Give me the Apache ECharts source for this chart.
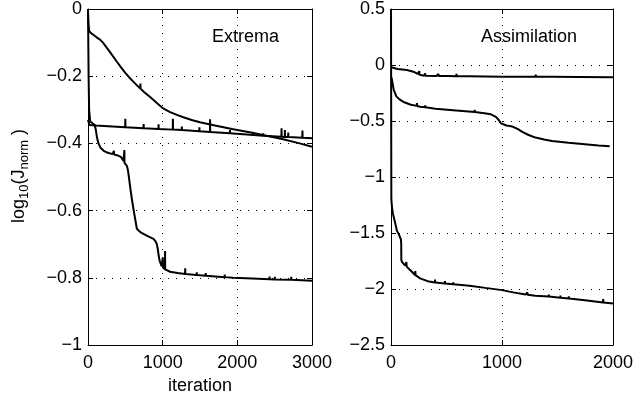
<!DOCTYPE html>
<html><head><meta charset="utf-8">
<script src="https://cdn.jsdelivr.net/npm/echarts@6/dist/echarts.min.js"></script>
<style>html,body{margin:0;padding:0;background:#fff}#c{width:636px;height:401px}</style>
</head><body><div id="c"></div>
<script>
// ---- Data ----
const leftTitle = "Extrema";
const rightTitle = "Assimilation";
const leftXTicks = [0, 1000, 2000, 3000];
const leftYTicks = [-1, -0.8, -0.6, -0.4, -0.2, 0];
const rightXTicks = [0, 1000, 2000];
const rightYTicks = [-2.5, -2, -1.5, -1, -0.5, 0, 0.5];

// Extrema panel
const extremaA = [[0,-0.005],[5,-0.04],[15,-0.065],[40,-0.072],[80,-0.078],[120,-0.085],[165,-0.092],[200,-0.1],[250,-0.115],[300,-0.13],[387,-0.157],[450,-0.176],[500,-0.19],[550,-0.203],[610,-0.217],[700,-0.237],[702,-0.222],[704,-0.237],[750,-0.247],[832,-0.262],[900,-0.275],[1000,-0.295],[1100,-0.307],[1200,-0.316],[1277,-0.322],[1400,-0.331],[1500,-0.337],[1700,-0.347],[1945,-0.358],[2200,-0.368],[2390,-0.377],[2600,-0.387],[2835,-0.4],[3000,-0.41]];
const extremaB = [[0,-0.33],[20,-0.345],[100,-0.347],[498,-0.352],[500,-0.327],[502,-0.352],[743,-0.355],[745,-0.342],[747,-0.355],[943,-0.357],[945,-0.343],[947,-0.357],[1135,-0.359],[1137,-0.327],[1139,-0.359],[1255,-0.36],[1257,-0.35],[1259,-0.36],[1490,-0.364],[1492,-0.352],[1494,-0.364],[1633,-0.366],[1635,-0.328],[1637,-0.366],[1900,-0.37],[1902,-0.36],[1904,-0.37],[2212,-0.375],[2214,-0.366],[2216,-0.375],[2345,-0.377],[2347,-0.37],[2349,-0.377],[2590,-0.38],[2592,-0.355],[2594,-0.38],[2635,-0.381],[2637,-0.36],[2639,-0.381],[2680,-0.381],[2682,-0.368],[2684,-0.381],[2870,-0.383],[2872,-0.362],[2874,-0.383],[3000,-0.385]];
const extremaC = [[0,0],[8,-0.2],[15,-0.3],[30,-0.335],[60,-0.34],[90,-0.345],[105,-0.36],[120,-0.382],[140,-0.4],[165,-0.412],[210,-0.422],[254,-0.427],[330,-0.432],[345,-0.433],[347,-0.422],[349,-0.433],[387,-0.435],[440,-0.44],[476,-0.452],[485,-0.455],[487,-0.42],[489,-0.458],[510,-0.462],[521,-0.467],[535,-0.48],[543,-0.492],[565,-0.53],[587,-0.565],[605,-0.59],[620,-0.61],[632,-0.625],[654,-0.654],[700,-0.664],[743,-0.669],[800,-0.676],[877,-0.684],[900,-0.69],[921,-0.699],[935,-0.715],[943,-0.728],[955,-0.745],[965,-0.753],[985,-0.765],[1000,-0.768],[1002,-0.74],[1004,-0.769],[1030,-0.775],[1032,-0.72],[1034,-0.775],[1050,-0.778],[1099,-0.782],[1200,-0.786],[1300,-0.789],[1302,-0.772],[1304,-0.789],[1455,-0.792],[1457,-0.784],[1459,-0.792],[1575,-0.794],[1577,-0.786],[1579,-0.794],[1830,-0.798],[1832,-0.79],[1834,-0.798],[1945,-0.8],[2200,-0.802],[2430,-0.804],[2432,-0.796],[2434,-0.804],[2500,-0.805],[2502,-0.797],[2504,-0.805],[2720,-0.806],[2722,-0.797],[2724,-0.806],[3000,-0.809]];

// Assimilation panel
const assimD = [[0,-0.02],[9,-0.03],[60,-0.035],[143,-0.045],[202,-0.06],[240,-0.08],[253,-0.085],[255,-0.055],[257,-0.088],[262,-0.09],[300,-0.095],[306,-0.095],[308,-0.075],[310,-0.095],[410,-0.098],[425,-0.098],[427,-0.08],[429,-0.098],[514,-0.099],[516,-0.082],[518,-0.099],[588,-0.1],[590,-0.078],[592,-0.1],[700,-0.101],[1000,-0.104],[1302,-0.104],[1304,-0.085],[1306,-0.104],[1450,-0.105],[1688,-0.107],[1690,-0.092],[1692,-0.107],[2000,-0.11]];
const assimE = [[0,-0.1],[9,-0.134],[24,-0.22],[48,-0.28],[80,-0.31],[113,-0.33],[180,-0.355],[232,-0.365],[234,-0.34],[236,-0.366],[262,-0.373],[306,-0.378],[308,-0.36],[310,-0.378],[400,-0.39],[559,-0.403],[700,-0.415],[752,-0.42],[754,-0.4],[756,-0.42],[841,-0.43],[900,-0.44],[945,-0.463],[970,-0.49],[990,-0.52],[1040,-0.54],[1094,-0.55],[1140,-0.57],[1183,-0.597],[1240,-0.625],[1302,-0.648],[1380,-0.665],[1450,-0.678],[1600,-0.695],[1747,-0.707],[1870,-0.718],[1970,-0.725]];
const assimF = [[0,0.5],[3,-1.2],[10,-1.28],[18,-1.33],[35,-1.4],[53,-1.48],[70,-1.51],[83,-1.52],[90,-1.56],[92,-1.6],[93,-1.74],[100,-1.76],[128,-1.79],[137,-1.8],[139,-1.76],[141,-1.8],[150,-1.81],[172,-1.83],[217,-1.875],[219,-1.84],[221,-1.876],[262,-1.905],[330,-1.93],[395,-1.942],[397,-1.915],[399,-1.942],[484,-1.95],[486,-1.93],[488,-1.95],[559,-1.958],[561,-1.94],[563,-1.958],[707,-1.97],[850,-1.99],[1000,-2.01],[1100,-2.03],[1213,-2.05],[1227,-2.052],[1229,-2.03],[1231,-2.052],[1300,-2.06],[1420,-2.068],[1422,-2.05],[1424,-2.068],[1525,-2.078],[1527,-2.06],[1529,-2.078],[1600,-2.085],[1602,-2.065],[1604,-2.085],[1747,-2.1],[1910,-2.12],[1912,-2.09],[1914,-2.12],[2000,-2.13]];

// ---- Chart ----
const FONT = '"Liberation Sans", Arial, sans-serif';
const fmt = v => { const s = String(Math.round(v * 10) / 10); return s.replace('-', '\u2212'); };
const grids = [
  {left: 88, top: 9, width: 224, height: 336},
  {left: 391, top: 9, width: 224, height: 336}
];
function xAx(gi, max, pos, main) {
  return {
    type: 'value', gridIndex: gi, min: 0, max: max, interval: 1000, position: pos,
    axisLine: {show: true, onZero: false, lineStyle: {color: '#000', width: 1}},
    axisTick: {show: true, inside: true, length: 5, lineStyle: {color: '#000'}},
    axisLabel: {show: main, color: '#000', fontSize: 18, fontFamily: FONT, margin: 9, formatter: fmt},
    splitLine: {show: main, lineStyle: {color: '#000', width: 1, type: [1, 7]}},
    name: (main && gi === 0) ? 'iteration' : '', nameLocation: 'middle', nameGap: 30,
    nameTextStyle: {color: '#000', fontSize: 18, fontFamily: FONT}
  };
}
function yAx(gi, min, max, interval, pos, main) {
  return {
    type: 'value', gridIndex: gi, min: min, max: max, interval: interval, position: pos,
    axisLine: {show: true, onZero: false, lineStyle: {color: '#000', width: 1}},
    axisTick: {show: true, inside: true, length: 5, lineStyle: {color: '#000'}},
    axisLabel: {show: main, color: '#000', fontSize: 18, fontFamily: FONT, margin: 6, formatter: fmt},
    splitLine: {show: main, lineStyle: {color: '#000', width: 1, type: [1, 7]}}
  };
}
const lineStyle = {color: '#000', width: 2};
function ser(data, xi, yi) {
  return {type: 'line', data: data, xAxisIndex: xi, yAxisIndex: yi, showSymbol: false, symbol: 'none',
          lineStyle: lineStyle, animation: false, z: 5};
}
const chart = echarts.init(document.getElementById('c'), null, {renderer: 'canvas'});
chart.setOption({
  backgroundColor: '#fff',
  animation: false,
  grid: grids,
  xAxis: [xAx(0, 3000, 'bottom', true), xAx(0, 3000, 'top', false), xAx(1, 2000, 'bottom', true), xAx(1, 2000, 'top', false)],
  yAxis: [yAx(0, -1, 0, 0.2, 'left', true), yAx(0, -1, 0, 0.2, 'right', false),
          yAx(1, -2.5, 0.5, 0.5, 'left', true), yAx(1, -2.5, 0.5, 0.5, 'right', false)],
  series: [ser(extremaA, 0, 0), ser(extremaB, 0, 0), ser(extremaC, 0, 0),
           ser(assimD, 2, 2), ser(assimE, 2, 2), ser(assimF, 2, 2)],
  graphic: [
    {type: 'text', left: 212, top: 28, style: {text: leftTitle, fill: '#000', font: '18px ' + FONT}},
    {type: 'text', left: 481, top: 28, style: {text: rightTitle, fill: '#000', font: '18px ' + FONT}},
    {type: 'text', x: 19, y: 176, rotation: Math.PI / 2,
     style: {text: 'log{s|10}(J{s|norm} )', fill: '#000', fontSize: 18, fontFamily: FONT,
             align: 'center', verticalAlign: 'middle',
             rich: {s: {fontSize: 13, fontFamily: FONT, fill: '#000', padding: [10, 0, 0, 0]}}}}
  ]
});
</script></body></html>
